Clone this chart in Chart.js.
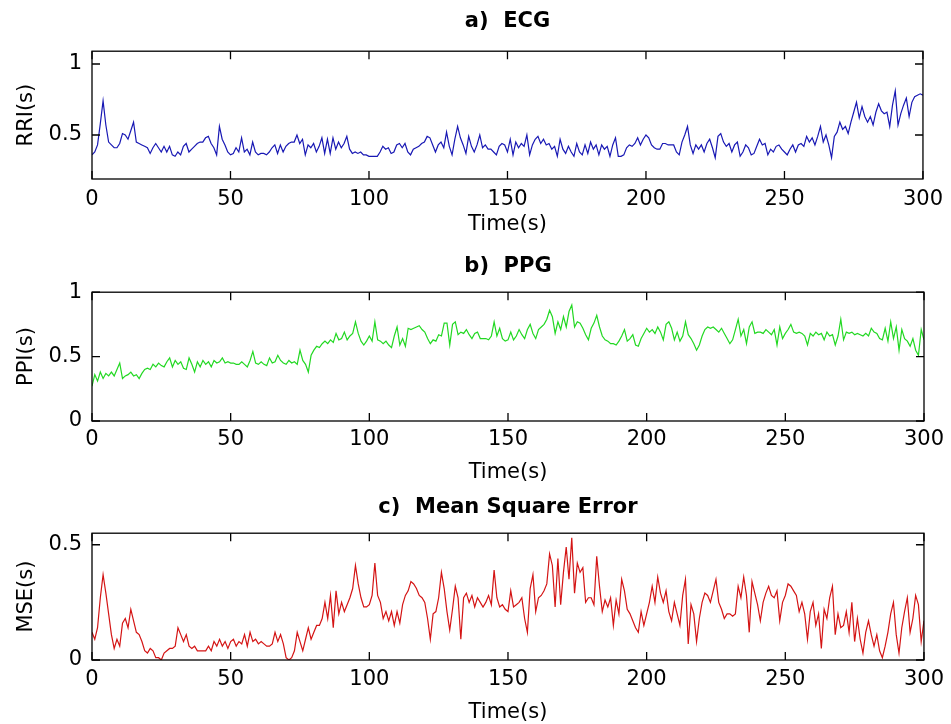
<!DOCTYPE html>
<html>
<head>
<meta charset="utf-8">
<script src="https://cdn.jsdelivr.net/npm/chart.js@4.4.1/dist/chart.umd.min.js"></script>
<style>
  html, body { margin: 0; padding: 0; background: #fff; overflow: hidden; width: 951px; height: 724px; }
  .panel { position: absolute; left: 0; width: 951px; }
</style>
</head>
<body>
<div class="panel" style="top:0;height:242px"><canvas id="ecg"></canvas></div>
<div class="panel" style="top:242px;height:245px"><canvas id="ppg"></canvas></div>
<div class="panel" style="top:487px;height:240px"><canvas id="mse"></canvas></div>
<script>
// one value per second, 0..300 s
const step = 1;
const xTicks = [0, 50, 100, 150, 200, 250, 300];

const rri = [
  0.36, 0.38, 0.43, 0.58, 0.74, 0.57, 0.45, 0.43, 0.41, 0.41,
  0.44, 0.51, 0.50, 0.47, 0.53, 0.59, 0.45, 0.44, 0.43, 0.42,
  0.41, 0.37, 0.41, 0.44, 0.41, 0.38, 0.42, 0.38, 0.42, 0.36,
  0.35, 0.38, 0.36, 0.42, 0.44, 0.38, 0.40, 0.42, 0.44, 0.45,
  0.45, 0.48, 0.49, 0.44, 0.41, 0.36, 0.56, 0.47, 0.43, 0.38,
  0.36, 0.37, 0.41, 0.38, 0.48, 0.38, 0.40, 0.36, 0.45, 0.38,
  0.36, 0.37, 0.37, 0.36, 0.38, 0.41, 0.43, 0.37, 0.43, 0.38,
  0.42, 0.44, 0.45, 0.45, 0.50, 0.44, 0.47, 0.36, 0.43, 0.41,
  0.44, 0.38, 0.42, 0.48, 0.37, 0.47, 0.37, 0.48, 0.40, 0.45,
  0.41, 0.44, 0.49, 0.40, 0.37, 0.38, 0.37, 0.38, 0.36, 0.36,
  0.35, 0.35, 0.35, 0.35, 0.38, 0.42, 0.40, 0.41, 0.37, 0.38,
  0.43, 0.44, 0.41, 0.44, 0.38, 0.36, 0.40, 0.41, 0.42, 0.44,
  0.45, 0.49, 0.48, 0.43, 0.38, 0.43, 0.45, 0.41, 0.52, 0.42,
  0.36, 0.47, 0.56, 0.48, 0.43, 0.37, 0.49, 0.42, 0.38, 0.43,
  0.50, 0.41, 0.43, 0.40, 0.40, 0.38, 0.36, 0.42, 0.44, 0.43,
  0.38, 0.47, 0.36, 0.45, 0.41, 0.44, 0.42, 0.50, 0.36, 0.43,
  0.47, 0.49, 0.44, 0.47, 0.43, 0.44, 0.40, 0.42, 0.35, 0.47,
  0.40, 0.37, 0.42, 0.38, 0.35, 0.44, 0.38, 0.36, 0.43, 0.37,
  0.45, 0.40, 0.43, 0.36, 0.43, 0.40, 0.42, 0.35, 0.43, 0.48,
  0.35, 0.35, 0.36, 0.41, 0.43, 0.42, 0.44, 0.48, 0.43, 0.47,
  0.50, 0.48, 0.43, 0.41, 0.40, 0.40, 0.44, 0.44, 0.43, 0.43,
  0.43, 0.38, 0.36, 0.45, 0.50, 0.56, 0.43, 0.37, 0.43, 0.40,
  0.43, 0.38, 0.44, 0.47, 0.41, 0.34, 0.49, 0.51, 0.45, 0.42,
  0.44, 0.38, 0.43, 0.45, 0.35, 0.38, 0.43, 0.41, 0.36, 0.37,
  0.42, 0.47, 0.43, 0.44, 0.36, 0.40, 0.38, 0.42, 0.43, 0.40,
  0.38, 0.36, 0.40, 0.43, 0.38, 0.43, 0.44, 0.42, 0.49, 0.45,
  0.48, 0.43, 0.49, 0.56, 0.45, 0.50, 0.43, 0.34, 0.49, 0.52,
  0.59, 0.54, 0.56, 0.51, 0.59, 0.66, 0.73, 0.62, 0.70, 0.63,
  0.59, 0.63, 0.57, 0.66, 0.72, 0.67, 0.65, 0.66, 0.56, 0.71,
  0.81, 0.57, 0.65, 0.71, 0.76, 0.63, 0.73, 0.77, 0.78, 0.79,
  0.78
];

const ppi = [
  0.27, 0.36, 0.31, 0.38, 0.33, 0.37, 0.35, 0.38, 0.35, 0.40,
  0.45, 0.33, 0.35, 0.36, 0.38, 0.35, 0.36, 0.33, 0.37, 0.40,
  0.41, 0.40, 0.44, 0.42, 0.45, 0.43, 0.42, 0.46, 0.49, 0.42,
  0.47, 0.44, 0.46, 0.41, 0.40, 0.49, 0.44, 0.38, 0.46, 0.42,
  0.47, 0.44, 0.46, 0.42, 0.47, 0.45, 0.46, 0.49, 0.45, 0.46,
  0.45, 0.45, 0.44, 0.44, 0.46, 0.44, 0.42, 0.47, 0.54, 0.45,
  0.44, 0.46, 0.44, 0.43, 0.49, 0.45, 0.46, 0.51, 0.47, 0.45,
  0.44, 0.47, 0.45, 0.46, 0.44, 0.55, 0.47, 0.44, 0.38, 0.51,
  0.55, 0.58, 0.57, 0.60, 0.62, 0.60, 0.63, 0.61, 0.68, 0.63,
  0.64, 0.69, 0.63, 0.66, 0.68, 0.77, 0.68, 0.62, 0.59, 0.62,
  0.66, 0.62, 0.77, 0.63, 0.62, 0.60, 0.62, 0.59, 0.57, 0.66,
  0.73, 0.59, 0.64, 0.58, 0.72, 0.71, 0.72, 0.73, 0.74, 0.71,
  0.69, 0.64, 0.60, 0.63, 0.62, 0.67, 0.66, 0.76, 0.76, 0.59,
  0.75, 0.77, 0.67, 0.69, 0.68, 0.71, 0.67, 0.64, 0.68, 0.69,
  0.64, 0.64, 0.64, 0.63, 0.66, 0.77, 0.66, 0.72, 0.64, 0.62,
  0.63, 0.69, 0.63, 0.66, 0.71, 0.67, 0.64, 0.71, 0.75, 0.68,
  0.64, 0.71, 0.73, 0.75, 0.79, 0.86, 0.81, 0.68, 0.77, 0.71,
  0.81, 0.73, 0.85, 0.90, 0.73, 0.77, 0.76, 0.72, 0.67, 0.63,
  0.72, 0.76, 0.82, 0.73, 0.66, 0.63, 0.62, 0.60, 0.60, 0.59,
  0.62, 0.66, 0.71, 0.62, 0.64, 0.67, 0.59, 0.58, 0.64, 0.68,
  0.72, 0.69, 0.71, 0.68, 0.73, 0.69, 0.63, 0.75, 0.77, 0.72,
  0.63, 0.69, 0.62, 0.66, 0.77, 0.67, 0.64, 0.60, 0.55, 0.59,
  0.66, 0.71, 0.73, 0.72, 0.73, 0.71, 0.69, 0.72, 0.68, 0.64,
  0.60, 0.63, 0.71, 0.79, 0.66, 0.71, 0.60, 0.73, 0.77, 0.68,
  0.69, 0.69, 0.68, 0.71, 0.69, 0.67, 0.71, 0.59, 0.73, 0.64,
  0.68, 0.71, 0.75, 0.69, 0.68, 0.69, 0.68, 0.66, 0.59, 0.68,
  0.66, 0.69, 0.67, 0.68, 0.63, 0.69, 0.66, 0.67, 0.59, 0.66,
  0.79, 0.63, 0.69, 0.68, 0.69, 0.67, 0.68, 0.67, 0.66, 0.68,
  0.66, 0.72, 0.69, 0.68, 0.64, 0.63, 0.72, 0.62, 0.77, 0.64,
  0.73, 0.55, 0.71, 0.64, 0.62, 0.58, 0.64, 0.55, 0.51, 0.71,
  0.63
];

const mse = [
  0.12, 0.09, 0.14, 0.27, 0.37, 0.29, 0.20, 0.11, 0.05, 0.09,
  0.06, 0.16, 0.18, 0.14, 0.22, 0.17, 0.12, 0.11, 0.08, 0.04,
  0.03, 0.05, 0.04, 0.01, 0.01, 0.00, 0.03, 0.04, 0.05, 0.05,
  0.06, 0.14, 0.11, 0.08, 0.11, 0.06, 0.05, 0.06, 0.04, 0.04,
  0.04, 0.04, 0.06, 0.04, 0.08, 0.06, 0.09, 0.06, 0.08, 0.05,
  0.08, 0.09, 0.06, 0.08, 0.07, 0.11, 0.06, 0.12, 0.08, 0.09,
  0.07, 0.08, 0.07, 0.06, 0.06, 0.07, 0.12, 0.08, 0.11, 0.07,
  0.01, 0.00, 0.01, 0.04, 0.12, 0.08, 0.04, 0.09, 0.14, 0.09,
  0.12, 0.15, 0.15, 0.18, 0.25, 0.18, 0.28, 0.14, 0.30, 0.20,
  0.25, 0.21, 0.24, 0.27, 0.31, 0.41, 0.33, 0.27, 0.23, 0.23,
  0.24, 0.28, 0.42, 0.28, 0.25, 0.18, 0.21, 0.17, 0.21, 0.15,
  0.21, 0.16, 0.24, 0.28, 0.30, 0.34, 0.33, 0.31, 0.28, 0.27,
  0.25, 0.18, 0.09, 0.20, 0.21, 0.27, 0.38, 0.31, 0.21, 0.13,
  0.22, 0.32, 0.27, 0.09, 0.27, 0.29, 0.25, 0.28, 0.23, 0.27,
  0.25, 0.23, 0.25, 0.28, 0.24, 0.39, 0.27, 0.23, 0.24, 0.22,
  0.21, 0.30, 0.23, 0.24, 0.25, 0.27, 0.18, 0.12, 0.31, 0.37,
  0.21, 0.27, 0.28, 0.30, 0.33, 0.46, 0.41, 0.23, 0.44, 0.24,
  0.38, 0.49, 0.35, 0.53, 0.29, 0.42, 0.38, 0.40, 0.25, 0.27,
  0.27, 0.24, 0.45, 0.32, 0.21, 0.26, 0.23, 0.27, 0.15, 0.26,
  0.20, 0.35, 0.30, 0.22, 0.20, 0.17, 0.14, 0.12, 0.21, 0.15,
  0.20, 0.25, 0.32, 0.25, 0.36, 0.29, 0.25, 0.30, 0.21, 0.17,
  0.25, 0.20, 0.15, 0.28, 0.35, 0.07, 0.24, 0.20, 0.08, 0.18,
  0.25, 0.29, 0.28, 0.25, 0.30, 0.35, 0.25, 0.22, 0.18, 0.20,
  0.20, 0.19, 0.20, 0.32, 0.27, 0.36, 0.28, 0.12, 0.34, 0.29,
  0.24, 0.17, 0.25, 0.29, 0.32, 0.28, 0.27, 0.30, 0.17, 0.25,
  0.28, 0.33, 0.32, 0.30, 0.28, 0.21, 0.25, 0.20, 0.09, 0.21,
  0.25, 0.15, 0.20, 0.05, 0.22, 0.18, 0.27, 0.32, 0.11, 0.20,
  0.14, 0.15, 0.21, 0.12, 0.25, 0.08, 0.18, 0.09, 0.03, 0.12,
  0.17, 0.11, 0.06, 0.11, 0.04, 0.01, 0.06, 0.12, 0.20, 0.25,
  0.11, 0.03, 0.14, 0.21, 0.27, 0.12, 0.18, 0.28, 0.24, 0.08,
  0.17
];

const rriTicks = [0.5, 1];
const ppiTicks = [0, 0.5, 1];
const mseTicks = [0, 0.5];

const FONT = 'DejaVu Sans';

// matlab style box with inward ticks on all four sides
const boxPlugin = {
  id: 'box',
  afterDatasetsDraw(chart) {
    const { ctx, chartArea: a, scales: { x, y } } = chart;
    const len = 8;
    ctx.save();
    ctx.strokeStyle = '#000';
    ctx.lineWidth = 1.3;
    ctx.strokeRect(a.left, a.top, a.right - a.left, a.bottom - a.top);
    ctx.beginPath();
    x.ticks.forEach(t => {
      const px = x.getPixelForValue(t.value);
      ctx.moveTo(px, a.bottom); ctx.lineTo(px, a.bottom - len);
      ctx.moveTo(px, a.top); ctx.lineTo(px, a.top + len);
    });
    y.ticks.forEach(t => {
      const py = y.getPixelForValue(t.value);
      ctx.moveTo(a.left, py); ctx.lineTo(a.left + len, py);
      ctx.moveTo(a.right, py); ctx.lineTo(a.right - len, py);
    });
    ctx.stroke();
    ctx.restore();
  }
};

function makePlot(id, cfg) {
  const pts = cfg.values.map((v, i) => ({ x: i * step, y: v }));
  return new Chart(document.getElementById(id), {
    type: 'line',
    data: { datasets: [{ data: pts, borderColor: cfg.color, borderWidth: 1.2, pointRadius: 0, tension: 0, fill: false }] },
    plugins: [boxPlugin],
    options: {
      responsive: true,
      maintainAspectRatio: false,
      animation: false,
      layout: { padding: { left: 0, right: 27, top: 0, bottom: 0 } },
      plugins: {
        legend: { display: false },
        tooltip: { enabled: false },
        title: {
          display: true,
          fullSize: false,
          text: cfg.title,
          color: '#000',
          font: { family: FONT, size: 21, weight: 'bold' },
          padding: { top: cfg.titleTop, bottom: cfg.titleBottom }
        }
      },
      scales: {
        x: {
          type: 'linear',
          min: 0, max: 300,
          afterBuildTicks: s => { s.ticks = xTicks.map(v => ({ value: v })); },
          afterFit: s => { s.height = cfg.xHeight; },
          grid: { display: false, drawTicks: false },
          border: { display: false },
          ticks: { color: '#000', font: { family: FONT, size: 21 }, padding: cfg.xTickPad, maxRotation: 0 },
          title: { display: true, text: 'Time(s)', color: '#000', font: { family: FONT, size: 21 }, padding: { top: 0, bottom: cfg.xTitlePad } }
        },
        y: {
          min: cfg.yMin, max: cfg.yMax,
          afterBuildTicks: s => { s.ticks = cfg.yTicks.map(v => ({ value: v })); },
          afterFit: s => { s.width = 92; },
          grid: { display: false, drawTicks: false },
          border: { display: false },
          ticks: { color: '#000', font: { family: FONT, size: 21 }, padding: 10, callback: v => String(v) },
          title: { display: true, text: cfg.yTitle, color: '#000', font: { family: FONT, size: 21 }, padding: { top: 14, bottom: 0 } }
        }
      }
    }
  });
}

makePlot('ecg', {
  values: rri, color: '#1818b4', title: 'a)  ECG', yTitle: 'RRI(s)',
  yMin: 0.19, yMax: 1.09, yTicks: rriTicks,
  titleTop: 9, titleBottom: 17, xHeight: 63, xTickPad: 8, xTitlePad: 5
});
makePlot('ppg', {
  values: ppi, color: '#22d822', title: 'b)  PPG', yTitle: 'PPI(s)',
  yMin: 0, yMax: 1, yTicks: ppiTicks,
  titleTop: 12, titleBottom: 13, xHeight: 66, xTickPad: 6, xTitlePad: 2
});
makePlot('mse', {
  values: mse, color: '#d41414', title: 'c)  Mean Square Error', yTitle: 'MSE(s)',
  yMin: 0, yMax: 0.55, yTicks: mseTicks,
  titleTop: 8, titleBottom: 13, xHeight: 67, xTickPad: 7, xTitlePad: 2
});
</script>
</body>
</html>
